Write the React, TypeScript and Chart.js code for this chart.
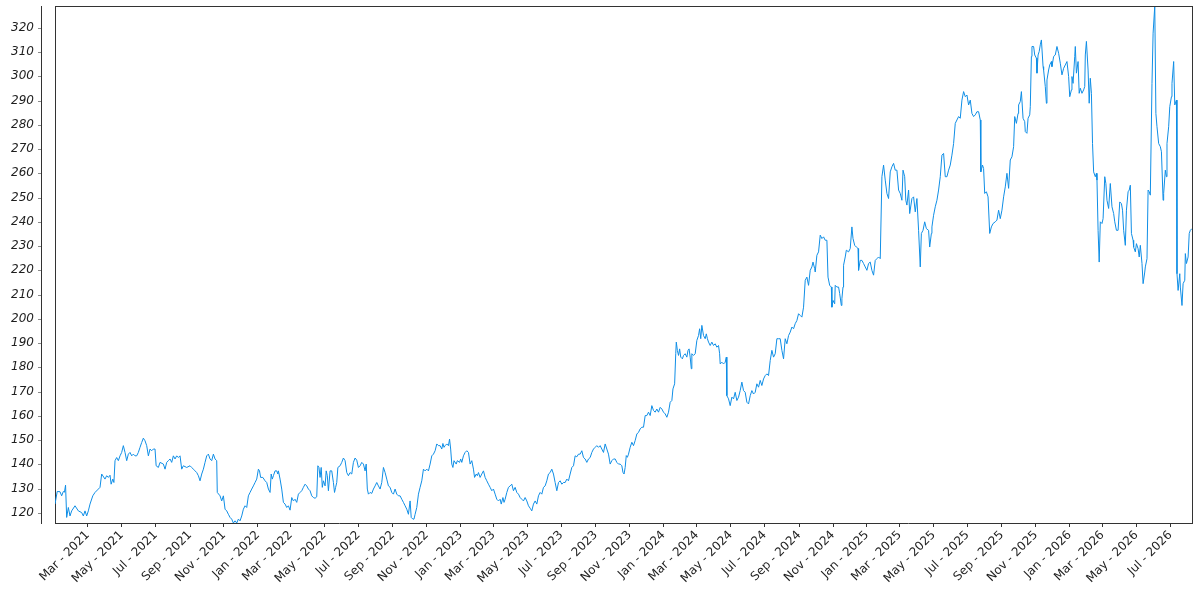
import React, { useEffect, useRef } from "react";
import { Chart, registerables } from "chart.js";

Chart.register(...registerables);

const START_DATE = "2021-01-01";

const series2021: [number, number][] = [
  [0, 123.6], [4, 128.8], [9, 128.7], [12, 127.0], [15, 128.8], [17, 128.5], [19, 131.4], [21, 118.1], [24, 122.2], [27, 118.7],
  [30, 120.8], [36, 122.9], [42, 120.8], [48, 120.1], [51, 118.7], [54, 120.8], [57, 118.7], [60, 120.8], [63, 123.6], [68, 127.0],
  [72, 128.4], [78, 129.8], [81, 130.5], [84, 136.0], [90, 133.9], [93, 135.3], [96, 134.6], [99, 135.5], [101, 131.8], [104, 133.9],
  [106, 132.5], [108, 141.5], [111, 142.8], [114, 141.5], [117, 143.5], [120, 144.9], [123, 147.7], [126, 144.9], [129, 141.5], [132, 144.2],
  [135, 144.9], [138, 143.5], [141, 144.2], [144, 143.5], [147, 143.5], [150, 144.9], [153, 147.0], [156, 149.0], [159, 150.8], [162, 149.7],
  [165, 147.7], [168, 143.5], [171, 146.3], [174, 145.6], [177, 146.3], [180, 146.3], [182, 139.4], [186, 138.7], [189, 140.8], [195, 140.1],
  [198, 138.0], [201, 140.8], [204, 141.5], [207, 142.2], [210, 140.8], [213, 143.5], [216, 142.2], [219, 143.5], [222, 142.8], [225, 143.5],
  [228, 138.0], [231, 139.4], [237, 138.7], [243, 139.4], [246, 138.7], [249, 138.0], [252, 137.3], [255, 136.6], [258, 135.3], [261, 133.2],
  [264, 136.0], [267, 138.0], [270, 140.8], [273, 143.5], [276, 144.2], [279, 142.2], [282, 141.5], [285, 144.2], [288, 142.2], [291, 141.5],
  [292, 128.4], [297, 127.0], [300, 124.9], [303, 127.0], [306, 121.5], [309, 120.8], [312, 119.4], [315, 118.1], [318, 117.4], [321, 115.8],
  [324, 116.7], [327, 115.8], [330, 117.4], [333, 116.7], [336, 118.7], [339, 121.5], [342, 122.9], [345, 122.2], [348, 127.0], [351, 128.4],
  [354, 129.8], [357, 131.1], [360, 132.5], [363, 133.9],
];

const series2022: [number, number][] = [
  [366, 138.0], [368, 137.3], [370, 134.6], [374, 134.6], [378, 133.2], [381, 132.5], [384, 129.8], [387, 128.4], [389, 136.0], [391, 133.9],
  [393, 135.3], [396, 137.3], [399, 137.3], [401, 136.0], [402, 137.3], [405, 133.9], [408, 129.8], [411, 124.3], [414, 123.6], [417, 122.2],
  [420, 122.9], [423, 121.1], [426, 126.3], [429, 124.9], [432, 125.6], [435, 124.3], [438, 127.7], [441, 128.4], [444, 129.1], [447, 130.5],
  [450, 131.8], [453, 131.1], [456, 129.8], [459, 129.1], [462, 127.0], [465, 126.3], [468, 126.0], [471, 126.6], [473, 139.4], [475, 138.7],
  [477, 134.6], [479, 138.7], [481, 130.5], [483, 133.2], [486, 131.1], [488, 137.3], [490, 135.3], [492, 129.1], [495, 137.3], [498, 137.3],
  [501, 132.5], [503, 128.4], [505, 130.5], [507, 132.5], [509, 138.7], [513, 139.4], [516, 140.8], [519, 142.6], [522, 141.5], [525, 136.6],
  [528, 135.3], [531, 136.6], [534, 136.0], [537, 140.8], [540, 142.6], [543, 141.7], [546, 138.7], [549, 139.4], [552, 140.8], [555, 140.1],
  [558, 137.3], [560, 140.1], [562, 129.8], [564, 127.7], [567, 128.4], [570, 128.0], [573, 129.8], [576, 131.1], [579, 132.5], [582, 131.1],
  [585, 129.8], [588, 132.5], [591, 138.7], [594, 136.6], [597, 133.9], [600, 131.1], [603, 130.5], [606, 128.4], [609, 127.7], [612, 129.8],
  [615, 127.7], [618, 127.0], [621, 127.0], [624, 125.6], [627, 124.3], [630, 122.9], [633, 121.5], [636, 119.4], [639, 124.9], [641, 118.1],
  [644, 117.4], [646, 117.4], [648, 119.4], [651, 122.2], [654, 127.7], [657, 130.5], [660, 133.2], [663, 138.0], [666, 137.3], [669, 138.0],
  [672, 137.3], [675, 140.1], [678, 143.5], [681, 144.2], [684, 145.6], [687, 148.4], [690, 147.7], [693, 147.7], [696, 146.3], [698, 148.6],
  [700, 147.0], [702, 147.7], [705, 148.4], [708, 147.7], [710, 150.4], [712, 146.3], [714, 140.1], [716, 138.7], [718, 141.5], [722, 140.1],
  [724, 141.5], [728, 140.8],
];

const series2023: [number, number][] = [
  [730, 142.2], [732, 140.8], [735, 143.5], [738, 144.9], [741, 145.6], [744, 144.9], [747, 140.1], [750, 141.5], [753, 138.0], [755, 134.6],
  [758, 136.0], [760, 135.3], [762, 136.6], [765, 134.6], [768, 136.0], [771, 137.3], [774, 134.6], [777, 133.2], [780, 131.8], [783, 130.5],
  [786, 129.1], [789, 129.8], [792, 127.7], [795, 125.6], [798, 124.9], [801, 125.6], [803, 123.6], [806, 126.3], [808, 124.3], [810, 125.6],
  [813, 128.4], [816, 130.5], [819, 131.1], [822, 131.8], [825, 129.1], [828, 130.5], [831, 128.4], [834, 127.7], [837, 126.3], [840, 125.6],
  [843, 124.9], [846, 126.3], [849, 124.9], [852, 122.9], [855, 121.9], [858, 120.8], [861, 123.6], [864, 124.9], [867, 123.6], [870, 127.0],
  [873, 128.4], [876, 127.7], [879, 130.5], [882, 131.1], [885, 133.2], [888, 136.0], [891, 136.6], [894, 138.0], [897, 136.0], [900, 132.5],
  [903, 129.1], [906, 132.5], [909, 133.2], [912, 131.8], [915, 132.5], [918, 132.5], [921, 133.9], [924, 133.2], [927, 136.0], [930, 138.7],
  [933, 139.4], [936, 143.5], [939, 143.1], [942, 144.2], [945, 144.2], [948, 145.6], [951, 142.8], [954, 142.2], [957, 140.8], [960, 142.2],
  [963, 142.8], [966, 144.9], [969, 146.3], [972, 147.0], [975, 147.7], [978, 147.0], [981, 147.7], [984, 146.3], [987, 144.9], [990, 148.4],
  [993, 146.3], [996, 144.2], [999, 140.1], [1002, 141.5], [1005, 142.2], [1008, 142.2], [1011, 140.8], [1014, 140.1], [1017, 140.1], [1020, 139.4],
  [1022, 136.7], [1024, 136.0], [1026, 138.7], [1028, 143.6], [1030, 142.9], [1032, 144.2], [1035, 147.0], [1038, 149.1], [1041, 147.7], [1044, 149.8],
  [1047, 152.5], [1050, 153.2], [1053, 154.6], [1056, 155.3], [1059, 155.3], [1062, 160.1], [1065, 160.1], [1068, 161.5], [1071, 160.1], [1074, 164.2],
  [1077, 162.2], [1080, 161.5], [1083, 162.8], [1086, 161.5], [1089, 163.5], [1092, 162.8],
];

const series2024: [number, number][] = [
  [1095, 161.5], [1098, 160.8], [1101, 159.4], [1104, 161.5], [1107, 165.6], [1110, 166.3], [1112, 171.1], [1115, 173.2], [1117, 185.6], [1118, 190.4],
  [1120, 186.9], [1122, 184.9], [1124, 187.6], [1126, 184.2], [1129, 183.5], [1131, 184.9], [1134, 185.6], [1137, 184.2], [1139, 186.9], [1141, 187.6],
  [1143, 184.2], [1145, 179.4], [1146, 185.6], [1149, 184.9], [1152, 185.6], [1155, 191.1], [1158, 193.1], [1160, 195.9], [1162, 191.8], [1164, 197.3],
  [1167, 193.1], [1170, 191.8], [1172, 193.8], [1174, 191.8], [1176, 190.4], [1179, 189.0], [1182, 190.4], [1185, 189.0], [1188, 189.7], [1191, 188.3],
  [1194, 189.0], [1196, 185.6], [1197, 181.4], [1200, 182.1], [1203, 181.4], [1206, 182.1], [1208, 184.2], [1209, 168.3], [1212, 167.0], [1215, 164.2],
  [1218, 167.7], [1221, 167.0], [1224, 169.7], [1227, 166.3], [1230, 167.7], [1233, 170.4], [1236, 173.9], [1239, 170.4], [1242, 169.7], [1245, 165.6],
  [1248, 164.9], [1251, 168.3], [1254, 170.4], [1257, 169.0], [1260, 169.7], [1263, 173.2], [1266, 171.8], [1269, 174.6], [1272, 172.5], [1275, 175.2],
  [1278, 176.6], [1281, 177.3], [1284, 176.6], [1287, 182.8], [1290, 187.0], [1293, 184.2], [1296, 185.6], [1299, 191.8], [1302, 191.8], [1305, 191.8],
  [1308, 187.0], [1311, 183.5], [1314, 191.8], [1317, 189.7], [1320, 193.1], [1323, 194.5], [1326, 196.6], [1329, 195.9], [1332, 198.0], [1335, 199.3],
  [1338, 202.1], [1341, 201.4], [1344, 200.7], [1347, 204.8], [1350, 215.9], [1353, 217.2], [1356, 213.8], [1359, 220.0], [1362, 221.4], [1364, 223.4],
  [1367, 220.7], [1368, 219.3], [1371, 226.2], [1374, 227.6], [1377, 234.5], [1380, 233.1], [1383, 233.8], [1386, 232.4], [1389, 232.4], [1391, 217.2],
  [1394, 213.8], [1397, 213.1], [1398, 204.8], [1400, 207.6], [1403, 206.2], [1404, 213.8], [1407, 213.1], [1410, 213.1], [1412, 210.4], [1415, 205.5],
  [1416, 208.3], [1418, 213.1], [1419, 222.1], [1422, 225.5], [1424, 228.3], [1428, 227.6], [1431, 229.0], [1434, 237.9], [1436, 233.1], [1439, 230.3],
  [1442, 229.6], [1445, 229.0], [1446, 220.0], [1449, 224.1], [1452, 224.1], [1455, 222.8], [1458, 221.4],
];

const series2025: [number, number][] = [
  [1461, 220.0], [1464, 222.8], [1467, 223.4], [1470, 220.0], [1473, 218.0], [1476, 224.1], [1479, 224.8], [1482, 225.5], [1485, 224.8], [1488, 258.6],
  [1491, 263.4], [1494, 257.2], [1497, 251.7], [1500, 249.6], [1503, 260.6], [1506, 262.7], [1509, 264.1], [1512, 261.3], [1515, 261.3], [1518, 253.1],
  [1521, 251.7], [1524, 248.9], [1526, 261.3], [1529, 258.6], [1531, 248.9], [1533, 246.9], [1536, 253.1], [1538, 243.4], [1542, 249.6], [1545, 250.3],
  [1548, 244.1], [1551, 249.6], [1554, 236.5], [1557, 221.4], [1559, 235.2], [1562, 236.5], [1565, 240.0], [1568, 237.2], [1572, 236.5], [1574, 229.6],
  [1577, 235.2], [1578, 237.9], [1581, 242.7], [1584, 246.2], [1587, 248.9], [1590, 253.1], [1593, 258.6], [1596, 267.5], [1599, 268.2], [1602, 258.6],
  [1605, 258.6], [1608, 261.3], [1611, 263.4], [1614, 267.5], [1617, 272.3], [1620, 280.6], [1623, 282.0], [1626, 283.4], [1629, 282.7], [1632, 290.2],
  [1635, 293.7], [1638, 291.6], [1641, 292.3], [1644, 288.2], [1647, 290.2], [1650, 284.7], [1653, 283.4], [1656, 284.1], [1659, 285.4], [1662, 285.4],
  [1665, 282.0], [1666, 260.6], [1669, 263.4], [1671, 262.0], [1673, 251.7], [1676, 252.4], [1679, 250.3], [1682, 235.2], [1685, 237.9], [1688, 239.3],
  [1692, 240.0], [1695, 240.7], [1698, 244.8], [1701, 241.3], [1704, 244.8], [1707, 250.3], [1710, 254.4], [1713, 260.0], [1716, 253.8], [1719, 265.5],
  [1722, 266.8], [1725, 271.0], [1727, 283.4], [1730, 280.6], [1733, 284.7], [1734, 288.2], [1737, 289.6], [1739, 293.7], [1742, 282.7], [1745, 281.3],
  [1746, 277.2], [1749, 276.5], [1751, 282.7], [1754, 284.1], [1755, 287.5], [1757, 308.2], [1758, 312.3], [1761, 312.3], [1763, 308.8], [1766, 307.5],
  [1767, 301.3], [1769, 308.8], [1771, 310.2], [1773, 313.0], [1775, 315.0], [1778, 304.0], [1779, 302.6], [1782, 295.8], [1784, 288.9], [1785, 298.5],
  [1788, 302.6], [1790, 304.7], [1793, 306.1], [1794, 304.0], [1797, 308.2], [1800, 308.8], [1803, 312.3], [1806, 309.5], [1809, 305.4], [1812, 300.6],
  [1815, 303.3], [1818, 304.7], [1821, 306.1], [1824, 299.9],
];

const series2026: [number, number][] = [
  [1826, 291.6], [1829, 294.4], [1830, 299.9], [1832, 297.1], [1835, 308.2], [1836, 312.3], [1838, 301.3], [1841, 306.1], [1843, 293.0], [1845, 295.1],
  [1848, 293.0], [1851, 294.4], [1853, 295.8], [1854, 308.8], [1856, 314.4], [1859, 302.6], [1861, 288.9], [1863, 299.2], [1865, 293.0], [1867, 272.3],
  [1869, 260.6], [1872, 258.6], [1874, 260.0], [1875, 257.2], [1877, 236.5], [1879, 223.4], [1881, 240.0], [1884, 239.3], [1886, 241.3], [1889, 258.6],
  [1891, 255.8], [1893, 248.9], [1896, 245.5], [1899, 255.8], [1902, 246.2], [1905, 243.4], [1907, 240.0], [1910, 236.5], [1913, 236.5], [1916, 248.2],
  [1919, 247.5], [1921, 244.8], [1923, 236.5], [1926, 230.3], [1928, 244.8], [1931, 252.4], [1933, 253.1], [1935, 255.1], [1937, 235.2], [1940, 232.4],
  [1941, 229.6], [1944, 227.6], [1946, 231.0], [1949, 228.9], [1951, 225.5], [1953, 230.3], [1956, 222.8], [1958, 214.5], [1961, 219.3], [1962, 221.4],
  [1965, 224.8], [1967, 253.1], [1969, 252.4], [1971, 251.0], [1974, 297.1], [1976, 317.8], [1979, 329.0], [1981, 284.7], [1983, 279.2], [1986, 272.3],
  [1989, 271.0], [1991, 268.9], [1994, 248.9], [1995, 251.7], [1998, 261.3], [2000, 258.6], [2001, 272.3], [2004, 279.2], [2006, 287.5], [2009, 291.6],
  [2010, 297.1], [2013, 306.1], [2015, 288.2], [2018, 290.2], [2019, 218.6], [2021, 211.7], [2024, 218.6], [2025, 213.1], [2028, 205.5], [2030, 214.5],
  [2033, 215.9], [2034, 226.9], [2036, 222.8], [2039, 225.5], [2041, 235.2], [2043, 236.5], [2046, 237.2],
];

const MONTH_NAMES = ["Jan", "Feb", "Mar", "Apr", "May", "Jun", "Jul", "Aug", "Sep", "Oct", "Nov", "Dec"];
const TICK_MONTH_STEP = 2;
const Y_TICK_STEP = 10;

const LINE_COLOR = "#0f8ee6";
const AXIS_COLOR = "#333333";
const TEXT_COLOR = "#1e1e1e";
const FONT_FAMILY = "'DejaVu Sans', sans-serif";

const DAY_MS = 86400000;

export default function App() {
  const canvasRef = useRef<HTMLCanvasElement | null>(null);

  useEffect(() => {
    const canvas = canvasRef.current;
    if (!canvas) return;
    const all = [...series2021, ...series2022, ...series2023, ...series2024, ...series2025, ...series2026];
    const start = Date.parse(START_DATE + "T00:00:00Z");
    const points = all.map(([d, v]) => ({ x: start + d * DAY_MS, y: v }));
    const values = all.map((p) => p[1]);
    const xMin = points[0].x;
    const xMax = points[points.length - 1].x;
    const yMin = Math.min(...values);
    const yMax = Math.max(...values);

    const framePlugin = {
      id: "frame",
      afterDraw(chart: any) {
        const { ctx, chartArea } = chart;
        const left = Math.round(chartArea.left);
        const right = Math.round(chartArea.right);
        const top = Math.round(chartArea.top);
        const bottom = Math.round(chartArea.bottom);
        const yScale = chart.scales.y;
        ctx.save();
        ctx.fillStyle = AXIS_COLOR;
        // top and right edges of the plot box
        ctx.fillRect(left, top, right - left + 1, 1);
        ctx.fillRect(right, top, 1, bottom - top + 1);
        // detached left spine with small tick marks
        const sx = left - 14;
        ctx.fillRect(sx, top, 1, bottom - top + 1);
        ctx.fillStyle = "#8a8a8a";
        yScale.ticks.forEach((t: any) => {
          const py = Math.round(yScale.getPixelForValue(t.value));
          ctx.fillRect(sx - 3, py, 3, 1);
        });
        ctx.restore();
      },
    };

    const chart = new Chart(canvas, {
      type: "line",
      data: {
        datasets: [
          {
            data: points,
            borderColor: LINE_COLOR,
            borderWidth: 1,
            pointRadius: 0,
            tension: 0,
            fill: false,
          },
        ],
      },
      options: {
        animation: false,
        responsive: false,
        maintainAspectRatio: false,
        layout: { padding: { top: 6, right: 8, left: 0, bottom: 0 }, autoPadding: false } as any,
        plugins: { legend: { display: false }, tooltip: { enabled: false } },
        scales: {
          x: {
            type: "linear",
            min: xMin,
            max: xMax,
            afterBuildTicks: (scale: any) => {
              const ticks: { value: number }[] = [];
              const startYear = new Date(xMin).getUTCFullYear();
              const endYear = new Date(xMax).getUTCFullYear();
              for (let y = startYear; y <= endYear; y++) {
                for (let m = 0; m < 12; m += TICK_MONTH_STEP) {
                  const v = Date.UTC(y, m, 1);
                  if (v > xMin && v <= xMax) ticks.push({ value: v });
                }
              }
              scale.ticks = ticks;
            },
            afterFit: (scale: any) => {
              scale.height = 77;
              scale.paddingLeft = 0;
              scale.paddingRight = 0;
            },
            grid: { drawOnChartArea: false, drawTicks: true, tickLength: 4, color: AXIS_COLOR },
            border: { display: true, color: AXIS_COLOR, width: 1 },
            ticks: {
              autoSkip: false,
              maxRotation: 45,
              minRotation: 45,
              padding: 1,
              color: TEXT_COLOR,
              font: { family: FONT_FAMILY, size: 12 },
              callback: (value: any) => {
                const d = new Date(Number(value));
                return MONTH_NAMES[d.getUTCMonth()] + " - " + d.getUTCFullYear();
              },
            },
          },
          y: {
            type: "linear",
            min: yMin,
            max: yMax,
            afterFit: (scale: any) => {
              scale.width = 55;
              scale.paddingTop = 0;
              scale.paddingBottom = 0;
            },
            grid: { drawOnChartArea: false, drawTicks: false },
            border: { display: true, color: AXIS_COLOR, width: 1 },
            ticks: {
              stepSize: Y_TICK_STEP,
              includeBounds: false,
              padding: 21,
              color: TEXT_COLOR,
              font: { family: FONT_FAMILY, size: 12, style: "italic" },
            },
          },
        },
      } as any,
      plugins: [framePlugin],
    });
    return () => chart.destroy();
  }, []);

  return (
    <div style={{ position: "absolute", left: 0, top: 0, width: 1200, height: 600, background: "#fff" }}>
      <canvas ref={canvasRef} width={1200} height={600} style={{ width: 1200, height: 600 }} />
    </div>
  );
}
